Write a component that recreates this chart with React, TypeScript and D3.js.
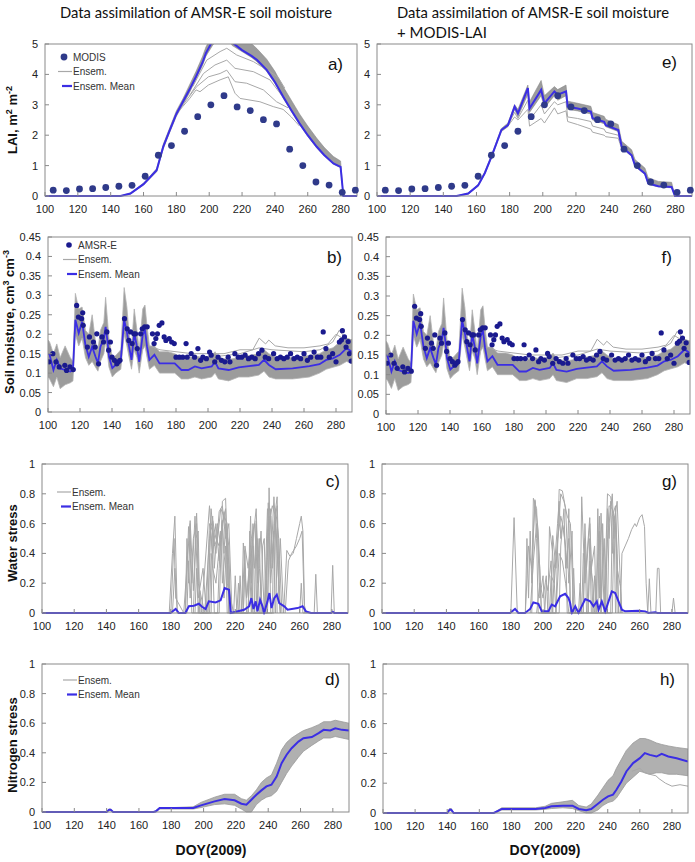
import React from 'react';
import * as d3 from 'd3';

// ---------- data ----------
const doyTicks = [100, 120, 140, 160, 180, 200, 220, 240, 260, 280];
const laiTicks = [0, 1, 2, 3, 4, 5];
const smTicks = [0, 0.05, 0.1, 0.15, 0.2, 0.25, 0.3, 0.35, 0.4, 0.45];
const stressTicks = [0, 0.2, 0.4, 0.6, 0.8, 1];

// MODIS LAI observations (8-day)
const modisDoy = [105, 113, 121, 129, 137, 145, 153, 161, 169, 177, 185, 193, 201, 209, 217, 225, 233, 241, 249, 257, 265, 273, 281, 289];
const modisLai = [0.19, 0.18, 0.23, 0.24, 0.28, 0.32, 0.35, 0.65, 1.34, 1.66, 2.13, 2.61, 3.0, 3.3, 2.93, 2.81, 2.51, 2.37, 1.54, 1.0, 0.46, 0.36, 0.12, 0.19];

// LAI, soil moisture assimilation only
const laiOpenDoy = [100, 146, 152, 160, 168, 172, 176, 180, 184, 188, 192, 196, 198, 202, 206, 210, 214, 220, 226, 229, 235, 240, 245, 250, 255, 260, 265.5, 270, 275.6, 280, 281.7, 290];
const laiOpenMean = [0, 0, 0.08, 0.39, 0.85, 1.62, 2.17, 2.7, 3.1, 3.5, 3.93, 4.4, 4.7, 5.1, 5.4, 5.5, 5.05, 4.8, 4.6, 4.48, 4.15, 3.75, 3.27, 2.82, 2.39, 2.0, 1.62, 1.35, 1.07, 0.96, 0, 0];
const laiOpenLo = [0, 0, 0.06, 0.36, 0.8, 1.55, 2.1, 2.62, 3.0, 3.4, 3.85, 4.3, 4.6, 4.95, 5.2, 5.3, 4.95, 4.75, 4.55, 4.42, 4.1, 3.7, 3.22, 2.78, 2.35, 1.96, 1.58, 1.32, 1.05, 0.93, 0, 0];
const laiOpenHi = [0, 0, 0.1, 0.42, 0.9, 1.7, 2.25, 2.8, 3.2, 3.65, 4.1, 4.6, 4.9, 5.3, 5.6, 5.7, 5.5, 5.25, 5.0, 4.85, 4.5, 4.1, 3.6, 3.15, 2.7, 2.3, 1.9, 1.6, 1.3, 1.15, 0, 0];
const laiOpenMembers: [number, number][][] = [
  [[180, 2.7], [184, 2.95], [188, 3.2], [192, 3.49], [194.4, 3.43], [199.5, 3.65], [206.6, 3.82], [211.6, 3.92], [215.7, 3.38], [218.8, 3.21], [230.9, 3.1], [239, 2.94], [245, 2.85], [250, 2.6], [255, 2.3]],
  [[184, 3.0], [192.4, 3.6], [199.5, 3.92], [206.6, 4.03], [210.7, 4.14], [215.7, 3.76], [222.8, 3.71], [233, 3.49], [241, 3.1], [248, 2.9]],
  [[188, 3.3], [196.5, 4.03], [203.5, 4.31], [210.7, 4.47], [215.7, 4.2], [226.9, 4.09], [237, 3.82], [243.1, 3.38], [248, 3.05]],
  [[190, 3.6], [198.5, 4.47], [206.6, 4.75], [210.7, 4.86], [216.7, 4.64], [226.9, 4.42], [237, 4.09], [242, 3.9], [246, 3.55]],
];

// LAI, soil moisture + MODIS-LAI assimilation
const laiDaDoy = [100, 148, 155, 161, 165, 169, 175, 179, 183, 185, 191, 192, 199, 201, 207, 209, 214, 215, 221, 229, 230, 237, 238, 245.5, 247.6, 253.6, 255.6, 261.6, 263.6, 269.7, 277.7, 279.7, 290];
const laiDaMean = [0, 0, 0.08, 0.35, 0.75, 1.29, 2.17, 2.33, 2.94, 2.72, 3.55, 2.88, 3.49, 3.05, 3.44, 3.33, 3.44, 2.94, 2.88, 2.78, 2.56, 2.44, 2.33, 2.17, 1.62, 1.34, 1.01, 0.74, 0.41, 0.32, 0.3, 0, 0];
const laiDaLo = [0, 0, 0.06, 0.32, 0.72, 1.25, 2.12, 2.28, 2.85, 2.6, 3.35, 2.75, 3.3, 2.9, 3.3, 3.15, 3.3, 2.85, 2.8, 2.7, 2.5, 2.38, 2.28, 2.12, 1.58, 1.3, 0.98, 0.7, 0.38, 0.3, 0.27, 0, 0];
const laiDaHi = [0, 0, 0.1, 0.38, 0.8, 1.33, 2.22, 2.4, 3.0, 2.85, 3.65, 3.1, 3.8, 3.3, 3.6, 3.5, 3.65, 3.12, 3.05, 2.95, 2.75, 2.62, 2.52, 2.35, 1.8, 1.52, 1.2, 0.92, 0.6, 0.48, 0.45, 0, 0];
const laiDaMembers: [number, number][][] = [
  [[179, 2.3], [183, 2.6], [185, 2.5], [191, 2.85], [192, 2.3], [199, 2.55], [201, 2.4], [207, 2.9], [209, 2.7], [214, 2.8], [215, 2.45], [221, 2.35], [229, 2.2], [230, 2.1], [237, 2.0], [238, 1.95], [245.5, 1.9], [247.6, 1.55]],
  [[179, 2.32], [183, 2.75], [185, 2.55], [191, 3.15], [192, 2.5], [199, 3.0], [201, 2.7], [207, 3.1], [209, 3.0], [214, 3.1], [215, 2.6], [221, 2.55], [229, 2.45], [230, 2.3], [237, 2.2], [238, 2.1], [245.5, 2.0], [247.6, 1.6]],
];

// AMSR-E soil moisture retrievals
const amsrDoy = [100.6, 103, 105, 107, 110.5, 111.6, 113.7, 115.8, 117.9, 119, 121, 121.7, 122, 124.6, 125.9, 128.4, 129.5, 130.5, 131.6, 133.7, 134.7, 136.8, 137.9, 139, 140, 141.5, 143, 144, 145, 147.8, 149.5, 150.5, 151.6, 152.6, 153.7, 154.7, 155.8, 157.9, 158.9, 160.4, 162, 165.3, 166.3, 167.4, 168.4, 169.5, 171.2, 172.6, 173.7, 175.8, 177.3, 178.9, 180, 182.1, 184.2, 186.3, 187, 189.5, 191.6, 193.7, 195.4, 196.8, 199, 201, 202, 204.2, 206.3, 208.4, 210.5, 212.6, 213.7, 216.8, 218.9, 221, 223.2, 225.3, 227.4, 229.5, 231.6, 233.7, 235.8, 237.9, 241, 243.2, 245.3, 247.4, 249.5, 251.6, 253.7, 255.8, 257.9, 260, 262.1, 264.2, 266.3, 268.4, 270.5, 272, 273.7, 275.8, 277.9, 280, 282.1, 283.4, 284, 285.3, 286.3, 287.6, 288.4, 289.5];
const amsrSm = [0.129, 0.15, 0.129, 0.116, 0.12, 0.107, 0.116, 0.109, 0.274, 0.244, 0.24, 0.255, 0.223, 0.167, 0.193, 0.18, 0.167, 0.201, 0.124, 0.193, 0.18, 0.206, 0.159, 0.18, 0.141, 0.133, 0.124, 0.129, 0.133, 0.24, 0.214, 0.184, 0.206, 0.176, 0.201, 0.201, 0.163, 0.201, 0.214, 0.219, 0.219, 0.201, 0.176, 0.189, 0.201, 0.223, 0.229, 0.193, 0.184, 0.189, 0.18, 0.176, 0.141, 0.141, 0.141, 0.176, 0.141, 0.15, 0.141, 0.163, 0.133, 0.141, 0.137, 0.154, 0.146, 0.129, 0.141, 0.133, 0.129, 0.141, 0.129, 0.15, 0.141, 0.141, 0.146, 0.137, 0.141, 0.137, 0.15, 0.159, 0.141, 0.137, 0.15, 0.137, 0.141, 0.137, 0.141, 0.15, 0.137, 0.141, 0.137, 0.15, 0.133, 0.141, 0.154, 0.141, 0.141, 0.206, 0.163, 0.141, 0.15, 0.129, 0.18, 0.185, 0.209, 0.193, 0.167, 0.181, 0.15, 0.131];

// simulated soil moisture ensemble (same in both experiments)
const smDoy = [100, 101, 103.4, 105.5, 107.6, 110.7, 113.9, 115.6, 117.1, 119.2, 121.3, 123.4, 125.5, 127.6, 129.7, 131.2, 132.8, 134.9, 136, 137.1, 138.1, 140.2, 142.3, 145.5, 147.6, 149.3, 150.7, 152.2, 153.9, 155.6, 157, 159.2, 160.6, 161.9, 163.4, 166.5, 169.7, 175, 179.2, 183.4, 187.6, 191.8, 196, 202.3, 204.4, 206.5, 212.9, 219.2, 225.5, 231.8, 235, 238.1, 242.3, 252.9, 263.4, 269.7, 273.9, 278.1, 282.4, 286.6, 290];
const smMean = [0.15, 0.147, 0.108, 0.134, 0.112, 0.108, 0.104, 0.108, 0.237, 0.203, 0.232, 0.172, 0.142, 0.168, 0.142, 0.126, 0.168, 0.189, 0.219, 0.185, 0.142, 0.113, 0.121, 0.134, 0.237, 0.206, 0.168, 0.134, 0.202, 0.168, 0.129, 0.198, 0.211, 0.168, 0.134, 0.147, 0.125, 0.125, 0.125, 0.108, 0.108, 0.117, 0.112, 0.117, 0.129, 0.112, 0.108, 0.115, 0.118, 0.121, 0.134, 0.121, 0.11, 0.112, 0.118, 0.123, 0.134, 0.138, 0.147, 0.164, 0.155];
const smLo = [0.09, 0.085, 0.065, 0.09, 0.06, 0.07, 0.075, 0.08, 0.2, 0.17, 0.19, 0.14, 0.12, 0.13, 0.115, 0.105, 0.13, 0.15, 0.18, 0.15, 0.115, 0.09, 0.1, 0.11, 0.2, 0.17, 0.14, 0.11, 0.16, 0.14, 0.1, 0.16, 0.17, 0.14, 0.11, 0.12, 0.1, 0.1, 0.1, 0.085, 0.085, 0.09, 0.085, 0.09, 0.1, 0.085, 0.08, 0.09, 0.09, 0.095, 0.105, 0.09, 0.085, 0.085, 0.09, 0.1, 0.11, 0.115, 0.12, 0.13, 0.125];
const smHi = [0.185, 0.18, 0.15, 0.175, 0.14, 0.17, 0.14, 0.13, 0.305, 0.265, 0.27, 0.21, 0.2, 0.25, 0.18, 0.16, 0.21, 0.23, 0.295, 0.24, 0.19, 0.14, 0.145, 0.16, 0.32, 0.27, 0.2, 0.17, 0.265, 0.21, 0.16, 0.265, 0.275, 0.22, 0.17, 0.17, 0.155, 0.155, 0.15, 0.14, 0.135, 0.145, 0.14, 0.145, 0.155, 0.14, 0.135, 0.14, 0.145, 0.15, 0.16, 0.15, 0.14, 0.14, 0.145, 0.15, 0.16, 0.165, 0.18, 0.19, 0.185];
const smMembers: [number, number][][] = [
  [[163, 0.17], [170, 0.16], [180, 0.155], [190, 0.15], [200, 0.15], [210, 0.15], [220, 0.16], [228, 0.16], [232, 0.19], [236, 0.175], [238, 0.185], [242, 0.17], [250, 0.165], [260, 0.165], [270, 0.17], [275, 0.175], [280, 0.2], [284, 0.19], [290, 0.18]],
  [[180, 0.14], [200, 0.14], [220, 0.15], [232, 0.165], [240, 0.16], [260, 0.155], [270, 0.16], [278, 0.18], [282, 0.21], [286, 0.19], [290, 0.185]],
];

// water stress, soil moisture assimilation only
const wsOpenDoy = [100, 179.8, 183, 185, 189, 191.2, 194.3, 197.4, 199.5, 201.6, 203.6, 207.8, 210.9, 213.4, 216.1, 217.2, 225.5, 228.6, 230, 231.3, 232.7, 233.8, 235.4, 236.9, 237.9, 240, 241.2, 242.5, 244.2, 245.8, 247.3, 250.4, 252.5, 258.7, 261.8, 263.9, 267, 279.5, 280.5, 281.5, 290];
const wsOpenMean = [0, 0, 0.027, 0, 0, 0.045, 0.049, 0.062, 0.04, 0.027, 0.078, 0.071, 0.085, 0.167, 0.156, 0, 0.022, 0.045, 0.1, 0.027, 0.078, 0.011, 0.089, 0.045, 0, 0.078, 0.134, 0.033, 0.1, 0.123, 0.067, 0.045, 0.022, 0.033, 0.045, 0.011, 0, 0, 0.008, 0, 0];
const wsOpenMembers: [number, number][][] = [
  [[179, 0], [181, 0.4], [182.5, 0.65], [184, 0], [189, 0], [190, 0.5], [191, 0.2], [192, 0.6], [193, 0], [199, 0], [204, 0.72], [206, 0.35], [207, 0], [210, 0], [212, 0.75], [214, 0.77], [216, 0.1], [217, 0], [228, 0], [229.5, 0.65], [231, 0], [240, 0], [241, 0.84], [242, 0.3], [244, 0.78], [246, 0.4], [248, 0]],
  [[180, 0], [182, 0.5], [183, 0.1], [188, 0], [192, 0.62], [194, 0.15], [196, 0.67], [198, 0], [203, 0], [205, 0.7], [207, 0.45], [209, 0.5], [211, 0.7], [213, 0.65], [215, 0.6], [217, 0], [224, 0], [225, 0.47], [227, 0.1], [233, 0.7], [235, 0], [239, 0], [240.5, 0.74], [242, 0.2], [245, 0.7], [247, 0.5], [249, 0]],
  [[189, 0], [191, 0.58], [193, 0.2], [195, 0.65], [197, 0.1], [200, 0.3], [202, 0], [204, 0.6], [206, 0.55], [208, 0.4], [210, 0.68], [212, 0.72], [214, 0.5], [216, 0.6], [218, 0], [222, 0], [223, 0.25], [224, 0], [226, 0.45], [228, 0.3], [230, 0.5], [232, 0.6], [234, 0.2], [236, 0.55], [238, 0], [241, 0.6], [243, 0.72], [245, 0.65], [247, 0.2], [248, 0.5], [250, 0]],
  [[250, 0], [252, 0.42], [254, 0.38], [256, 0.4], [258, 0.5], [260, 0.6], [261, 0.65], [262, 0.55], [263, 0.05], [264, 0]],
  [[251, 0], [253, 0.35], [255, 0.4], [258, 0.45], [260, 0.5], [261.5, 0.55], [263, 0]],
  [[194, 0], [195.5, 0.5], [197, 0.55], [198, 0], [205, 0], [206, 0.62], [208, 0.5], [210, 0.45], [212, 0.6], [214, 0.7], [215, 0.2], [219, 0], [220, 0.25], [221, 0], [228, 0], [229, 0.55], [230, 0.2], [231, 0.6], [232, 0], [236, 0], [237, 0.45], [238, 0.5], [239, 0], [243, 0], [244, 0.6], [246, 0.78], [247, 0.3], [248, 0]],
  [[195, 0], [196, 0.3], [197, 0], [204, 0], [205, 0.4], [206, 0.3], [208, 0.2], [211, 0.55], [212, 0.2], [214, 0.45], [215, 0], [225, 0], [226, 0.3], [227, 0.1], [229, 0.35], [231, 0], [233, 0], [234, 0.5], [235, 0.3], [237, 0], [240, 0], [241, 0.45], [242, 0.7], [243, 0.3], [244, 0.55], [245, 0]],
  [[260, 0], [261, 0.2], [262, 0], [269, 0], [270, 0.26], [271, 0], [279.5, 0], [280.5, 0.32], [281.5, 0]],
  [[181, 0], [182.5, 0.3], [184, 0], [190, 0], [191, 0.35], [192, 0.1], [194, 0.5], [196, 0.6], [197, 0.2], [201, 0], [204, 0.5], [206, 0.65], [207, 0.3], [209, 0.6], [211, 0.45], [213, 0.68], [215, 0.4], [216, 0], [221, 0], [222, 0.2], [223, 0], [230, 0], [231, 0.45], [232, 0.3], [233, 0.6], [234, 0], [238, 0], [240, 0.7], [241, 0.5], [242, 0.65], [243, 0.4], [245, 0.62], [246, 0]],
  [[203, 0], [204.5, 0.55], [206, 0.4], [208, 0.6], [210, 0.35], [212, 0.62], [213, 0.1], [215, 0.55], [216, 0], [225, 0], [226, 0.42], [227, 0], [232, 0], [233, 0.62], [234, 0.3], [235, 0.5], [236, 0], [244, 0], [245, 0.65], [246, 0.72], [247, 0.1], [248, 0]],
  [[197, 0], [198, 0.15], [199, 0], [209, 0], [210, 0.3], [211, 0.5], [212, 0.62], [213, 0.4], [214, 0.6], [216, 0.45], [217, 0], [228, 0], [229, 0.3], [230, 0], [239, 0], [240, 0.55], [241, 0.65], [242, 0]],
];

// water stress, soil moisture + MODIS-LAI assimilation
const wsDaDoy = [100, 179.5, 182.6, 184.7, 188.8, 192, 194, 197.1, 199.2, 203.3, 205.4, 207.5, 210.6, 213.7, 215.8, 216.8, 217.9, 220, 222, 226.2, 229.3, 231.3, 233.4, 234.5, 236.5, 238.6, 241.7, 242.7, 244.8, 248.9, 251, 259.3, 263.4, 265.4, 269.6, 271, 290];
const wsDaMean = [0, 0, 0.027, 0, 0, 0.027, 0.071, 0.062, 0.011, 0.011, 0.056, 0.045, 0.112, 0.129, 0.1, 0.067, 0, 0.045, 0, 0.094, 0.078, 0.045, 0.078, 0.022, 0.078, 0.011, 0.112, 0.145, 0.134, 0.022, 0.011, 0.015, 0.011, 0, 0.005, 0, 0];
const wsDaMembers: [number, number][][] = [
  [[180, 0], [182, 0.64], [184, 0], [189, 0], [190, 0.5], [191, 0.1], [192, 0.55], [193, 0.2], [194, 0.77], [196, 0.7], [198, 0.1], [200, 0.25], [201, 0], [203, 0], [204, 0.58], [206, 0.4], [208, 0], [210, 0.83], [212, 0.82], [214, 0.7], [216, 0.2], [218, 0.55], [219, 0], [223, 0], [224, 0.78], [226, 0.2], [229, 0.64], [231, 0], [233, 0], [234, 0.7], [235, 0.1], [236, 0.67], [238, 0], [240, 0.8], [242, 0.78], [244, 0.6], [246, 0.75], [248, 0.2], [249, 0]],
  [[189, 0], [191, 0.45], [193, 0.3], [195, 0.75], [197, 0.55], [199, 0], [205, 0], [206, 0.52], [208, 0.3], [211, 0.8], [213, 0.75], [215, 0.65], [217, 0.6], [219, 0], [225, 0], [226, 0.6], [227, 0.3], [229, 0.6], [230, 0.3], [232, 0.45], [233, 0], [238, 0], [241, 0.72], [243, 0.7], [245, 0.6], [246, 0.3], [248, 0.18], [249, 0]],
  [[192, 0], [194, 0.35], [196, 0.6], [198, 0.3], [199, 0], [204, 0], [205, 0.25], [207, 0.2], [209, 0.5], [211, 0.65], [213, 0.55], [215, 0.3], [216, 0.7], [217, 0], [228, 0], [229, 0.5], [230, 0], [234, 0], [235, 0.55], [236, 0], [240, 0], [241, 0.6], [243, 0.8], [244, 0.5], [245, 0.7], [247, 0]],
  [[248, 0], [249, 0.4], [251, 0.45], [253, 0.5], [255, 0.56], [257, 0.6], [258, 0.58], [260, 0.64], [261.5, 0.66], [263, 0.58], [264, 0.2], [265, 0], [266, 0.23], [267, 0], [270, 0], [271, 0.3], [272, 0.3], [273, 0], [280, 0], [281, 0.1], [282, 0]],
  [[196, 0], [198, 0.2], [200, 0.1], [202, 0.25], [203, 0], [208, 0], [210, 0.4], [212, 0.35], [214, 0.2], [216, 0], [224, 0], [225, 0.4], [227, 0.3], [228, 0], [231, 0], [232, 0.25], [233, 0], [236, 0], [237, 0.6], [238, 0.2], [239, 0], [242, 0], [243, 0.65], [245, 0.72], [246, 0.4], [247, 0]],
  [[193, 0], [194, 0.55], [195, 0.76], [196, 0.5], [197, 0], [206, 0], [207, 0.3], [209, 0.6], [210, 0.75], [211, 0.5], [212, 0.6], [214, 0.45], [215, 0], [218, 0], [219, 0.3], [220, 0], [225, 0], [226, 0.5], [227, 0], [233, 0], [234, 0.4], [235, 0.65], [236, 0], [239, 0], [240, 0.7], [241, 0.5], [242, 0.75], [243, 0.4], [244, 0.65], [245, 0]],
  [[201, 0], [202, 0.2], [203, 0.15], [205, 0.35], [206, 0], [210, 0], [211, 0.45], [213, 0.7], [214, 0.3], [216, 0.5], [217, 0], [222, 0], [223, 0.2], [224, 0], [228, 0], [229, 0.35], [231, 0.2], [232, 0], [236, 0], [237, 0.3], [238, 0.5], [239, 0], [243, 0], [244, 0.55], [245, 0.6], [246, 0]],
];

// nitrogen stress, soil moisture assimilation only
const nOpenDoy = [100, 140, 141.5, 142.5, 144, 169, 170.5, 172.8, 181.1, 193.6, 198.4, 206.8, 213, 219.2, 223.4, 226.5, 229.6, 232.7, 235.8, 238.9, 242, 245.2, 248.3, 251.4, 254.5, 258.7, 261.8, 267, 271.2, 274.3, 278.4, 281.5, 285.7, 290];
const nOpenMean = [0, 0, 0.016, 0.016, 0, 0, 0.005, 0.027, 0.027, 0.027, 0.045, 0.072, 0.088, 0.079, 0.056, 0.049, 0.083, 0.117, 0.146, 0.173, 0.184, 0.24, 0.33, 0.387, 0.431, 0.476, 0.499, 0.506, 0.533, 0.555, 0.551, 0.566, 0.555, 0.551];
const nOpenLo = [0, 0, 0.01, 0.01, 0, 0, 0, 0.02, 0.02, 0.02, 0.03, 0.05, 0.055, 0.045, 0.02, 0, 0, 0.05, 0.08, 0.1, 0.11, 0.14, 0.2, 0.26, 0.31, 0.37, 0.41, 0.45, 0.48, 0.5, 0.5, 0.51, 0.5, 0.49];
const nOpenHi = [0, 0, 0.02, 0.02, 0, 0, 0.01, 0.03, 0.03, 0.035, 0.065, 0.1, 0.12, 0.12, 0.09, 0.08, 0.11, 0.15, 0.2, 0.23, 0.25, 0.33, 0.42, 0.47, 0.5, 0.53, 0.55, 0.57, 0.59, 0.61, 0.61, 0.62, 0.61, 0.6];

// nitrogen stress, soil moisture + MODIS-LAI assimilation
const nDaDoy = [100, 140, 141.5, 142.5, 144, 169, 171, 174, 195, 201, 205, 212, 218, 222, 226.6, 229.7, 233.9, 237, 240.2, 243.3, 245.4, 248.5, 251.6, 255.8, 260, 263.1, 266.2, 270.4, 273.6, 277.7, 282.9, 290];
const nDaMean = [0, 0, 0.022, 0.022, 0, 0, 0.011, 0.027, 0.027, 0.033, 0.045, 0.049, 0.049, 0.027, 0.018, 0.027, 0.062, 0.089, 0.112, 0.123, 0.156, 0.212, 0.279, 0.335, 0.368, 0.402, 0.39, 0.379, 0.397, 0.379, 0.368, 0.346];
const nDaLo = [0, 0, 0.015, 0.015, 0, 0, 0.005, 0.02, 0.02, 0.025, 0.03, 0.035, 0.03, 0.015, 0, 0, 0.02, 0.05, 0.07, 0.08, 0.1, 0.15, 0.2, 0.24, 0.28, 0.27, 0.26, 0.27, 0.27, 0.26, 0.26, 0.25];
const nDaHi = [0, 0, 0.03, 0.03, 0, 0, 0.015, 0.035, 0.035, 0.045, 0.065, 0.075, 0.085, 0.05, 0.04, 0.06, 0.12, 0.17, 0.22, 0.25, 0.3, 0.36, 0.42, 0.47, 0.5, 0.5, 0.49, 0.47, 0.46, 0.45, 0.44, 0.43];
const nDaMembers: [number, number][][] = [
  [[255, 0.28], [260, 0.3], [263, 0.27], [266, 0.26], [270, 0.25], [272, 0.23], [276, 0.2], [280, 0.18], [285, 0.19], [290, 0.18]],
];

// ---------- styling ----------
const BLUE = '#3b2ee4';
const ENS = '#a8a8a8';
const BAND = '#9c9c9c';
const FRAME = '#8a8a8a';
const MODIS_C = '#2f3a8a';
const AMSR_C = '#1a1a8e';
const FONT = "'Liberation Sans', Arial, sans-serif";

type Box = { x: number; y: number; w: number; h: number; tagDx: number; tagDy: number };
type Sc = d3.ScaleLinear<number, number>;

const zip = (xs: number[], ys: number[]) => xs.map((d, i) => [d, ys[i]] as [number, number]);

const lineFor = (x: Sc, y: Sc) =>
  d3.line<[number, number]>().x(d => x(d[0])).y(d => y(d[1]));

const bandFor = (x: Sc, y: Sc, doy: number[], lo: number[], hi: number[]) =>
  d3.area<number>().x(i => x(doy[i])).y0(i => y(lo[i])).y1(i => y(hi[i]))(d3.range(doy.length)) || '';

const Panel = ({ id, box, yMax, yTicks, yFmt, tag, plot, marks }: {
  id: string; box: Box; yMax: number; yTicks: number[]; yFmt: (v: number) => string; tag: string;
  plot: (x: Sc, y: Sc) => React.ReactNode; marks?: (x: Sc, y: Sc) => React.ReactNode;
}) => {
  const x = d3.scaleLinear().domain([100, 290]).range([box.x, box.x + box.w]);
  const y = d3.scaleLinear().domain([0, yMax]).range([box.y + box.h, box.y]);
  const bottom = box.y + box.h;
  return (
    <g>
      <defs>
        <clipPath id={id}>
          <rect x={box.x} y={box.y} width={box.w} height={box.h + 1.5} />
        </clipPath>
      </defs>
      <rect x={box.x} y={box.y} width={box.w} height={box.h} fill="#fff" />
      <g clipPath={`url(#${id})`}>{plot(x, y)}</g>
      <rect x={box.x} y={box.y} width={box.w} height={box.h} fill="none" stroke={FRAME} strokeWidth={1} />
      {doyTicks.map(t => (
        <g key={t}>
          <line x1={x(t)} x2={x(t)} y1={bottom} y2={bottom - 4} stroke={FRAME} />
          <text x={x(t)} y={bottom + 17} textAnchor="middle" fontSize={11} fill="#222">{t}</text>
        </g>
      ))}
      {yTicks.map(t => (
        <g key={t}>
          <line x1={box.x} x2={box.x + 4} y1={y(t)} y2={y(t)} stroke={FRAME} />
          <text x={box.x - 7} y={y(t) + 4} textAnchor="end" fontSize={11} fill="#222">{yFmt(t)}</text>
        </g>
      ))}
      {marks && marks(x, y)}
      <text x={box.x + box.w - box.tagDx} y={box.y + box.tagDy} textAnchor="end" fontSize={17} fill="#111">{tag}</text>
    </g>
  );
};

const Legend = ({ x, y, dot, dotR, dotColor }: { x: number; y: number; dot?: string; dotR?: number; dotColor?: string }) => {
  let row = y;
  const rows: React.ReactNode[] = [];
  if (dot) {
    rows.push(
      <g key="dot">
        <circle cx={x + 6} cy={row} r={dotR} fill={dotColor} />
        <text x={x + 15} y={row + 3.5} fontSize={10} fill="#333">{dot}</text>
      </g>
    );
    row += 14.5;
  }
  rows.push(
    <g key="ens">
      <line x1={x} x2={x + 14} y1={row} y2={row} stroke={ENS} strokeWidth={1.2} />
      <text x={x + 15} y={row + 3.5} fontSize={10} fill="#333">Ensem.</text>
    </g>
  );
  row += 14.5;
  rows.push(
    <g key="mean">
      <line x1={x + 4} x2={x + 14} y1={row} y2={row} stroke={BLUE} strokeWidth={2.2} />
      <text x={x + 15} y={row + 3.5} fontSize={10} fill="#333">Ensem. Mean</text>
    </g>
  );
  return <g>{rows}</g>;
};

const boxA: Box = { x: 45, y: 44, w: 312, h: 152, tagDx: 14, tagDy: 26 };
const boxE: Box = { x: 377, y: 44, w: 315, h: 152, tagDx: 15, tagDy: 24 };
const boxB: Box = { x: 48, y: 237, w: 304, h: 175, tagDx: 10, tagDy: 26 };
const boxF: Box = { x: 386, y: 237, w: 304, h: 177, tagDx: 18, tagDy: 26 };
const boxC: Box = { x: 42, y: 464, w: 306, h: 149, tagDx: 8, tagDy: 23 };
const boxG: Box = { x: 382, y: 464, w: 306, h: 149, tagDx: 11, tagDy: 23 };
const boxD: Box = { x: 42, y: 664, w: 307, h: 148, tagDx: 9, tagDy: 21 };
const boxH: Box = { x: 383, y: 664, w: 305, h: 149, tagDx: 13, tagDy: 21 };

const intFmt = (v: number) => String(v);
const decFmt = (v: number) => String(+v.toFixed(2));

const LaiPlot = (doy: number[], mean: number[], lo: number[], hi: number[], members: [number, number][][]) =>
  (x: Sc, y: Sc) => {
    const line = lineFor(x, y);
    return (
      <>
        <path d={bandFor(x, y, doy, lo, hi)} fill={BAND} stroke="#8a8a8a" strokeWidth={0.6} />
        {members.map((m, i) => <path key={i} d={line(m) || ''} fill="none" stroke={ENS} strokeWidth={1} />)}
        <path d={line(zip(doy, mean)) || ''} fill="none" stroke={BLUE} strokeWidth={2} />
      </>
    );
  };

const modisMarks = (x: Sc, y: Sc) =>
  zip(modisDoy, modisLai).map((d, i) => <circle key={i} cx={x(d[0])} cy={y(d[1])} r={3.4} fill={MODIS_C} />);

const smPlot = (x: Sc, y: Sc) => {
  const line = lineFor(x, y);
  return (
    <>
      <path d={bandFor(x, y, smDoy, smLo, smHi)} fill={BAND} stroke="#b4b4b4" strokeWidth={0.8} />
      {smMembers.map((m, i) => <path key={i} d={line(m) || ''} fill="none" stroke={ENS} strokeWidth={1} />)}
      <path d={line(zip(smDoy, smMean)) || ''} fill="none" stroke={BLUE} strokeWidth={1.8} />
      {zip(amsrDoy, amsrSm).map((d, i) => <circle key={i} cx={x(d[0])} cy={y(d[1])} r={2.6} fill={AMSR_C} />)}
    </>
  );
};

const wsPlot = (doy: number[], mean: number[], members: [number, number][][]) => (x: Sc, y: Sc) => {
  const line = lineFor(x, y);
  return (
    <>
      {members.map((m, i) => <path key={i} d={line(m) || ''} fill="none" stroke={ENS} strokeWidth={1} />)}
      <path d={line(zip(doy, mean)) || ''} fill="none" stroke={BLUE} strokeWidth={2} />
    </>
  );
};

const nPlot = (doy: number[], mean: number[], lo: number[], hi: number[], members: [number, number][][]) =>
  (x: Sc, y: Sc) => {
    const line = lineFor(x, y);
    return (
      <>
        <path d={bandFor(x, y, doy, lo, hi)} fill="#b0b0b0" stroke="#999" strokeWidth={0.8} />
        {members.map((m, i) => <path key={i} d={line(m) || ''} fill="none" stroke={ENS} strokeWidth={1} />)}
        <path d={line(zip(doy, mean)) || ''} fill="none" stroke={BLUE} strokeWidth={2} />
      </>
    );
  };

const YTitle = ({ x, y, children }: { x: number; y: number; children: React.ReactNode }) => (
  <text transform={`translate(${x},${y}) rotate(-90)`} textAnchor="middle" fontSize={13} fontWeight="bold" fill="#111">
    {children}
  </text>
);

export default function App() {
  return (
    <div style={{ position: 'absolute', left: 0, top: 0 }}>
      <svg width={695} height={862} style={{ display: 'block', background: '#fff' }} fontFamily={FONT}>
        <g fontFamily="Lato, 'Open Sans', sans-serif" fontSize={15} fill="#111">
          <text x={60} y={18} textLength={272} lengthAdjust="spacingAndGlyphs">Data assimilation of AMSR-E soil moisture</text>
          <text x={397} y={18} textLength={272} lengthAdjust="spacingAndGlyphs">Data assimilation of AMSR-E soil moisture</text>
          <text x={397} y={38}>+ MODIS-LAI</text>
        </g>

        <Panel id="pa" box={boxA} yMax={5} yTicks={laiTicks} yFmt={intFmt} tag="a)"
          plot={LaiPlot(laiOpenDoy, laiOpenMean, laiOpenLo, laiOpenHi, laiOpenMembers)} marks={modisMarks} />
        <Legend x={58} y={57} dot="MODIS" dotR={3.4} dotColor={MODIS_C} />
        <Panel id="pe" box={boxE} yMax={5} yTicks={laiTicks} yFmt={intFmt} tag="e)"
          plot={LaiPlot(laiDaDoy, laiDaMean, laiDaLo, laiDaHi, laiDaMembers)} marks={modisMarks} />

        <Panel id="pb" box={boxB} yMax={0.45} yTicks={smTicks} yFmt={decFmt} tag="b)" plot={smPlot} />
        <Legend x={63} y={245} dot="AMSR-E" dotR={2.8} dotColor={AMSR_C} />
        <Panel id="pf" box={boxF} yMax={0.45} yTicks={smTicks} yFmt={decFmt} tag="f)" plot={smPlot} />

        <Panel id="pc" box={boxC} yMax={1} yTicks={stressTicks} yFmt={decFmt} tag="c)"
          plot={wsPlot(wsOpenDoy, wsOpenMean, wsOpenMembers)} />
        <Legend x={57} y={492} />
        <Panel id="pg" box={boxG} yMax={1} yTicks={stressTicks} yFmt={decFmt} tag="g)"
          plot={wsPlot(wsDaDoy, wsDaMean, wsDaMembers)} />

        <Panel id="pd" box={boxD} yMax={1} yTicks={stressTicks} yFmt={decFmt} tag="d)"
          plot={nPlot(nOpenDoy, nOpenMean, nOpenLo, nOpenHi, [])} />
        <Legend x={63} y={680} />
        <Panel id="ph" box={boxH} yMax={1} yTicks={stressTicks} yFmt={decFmt} tag="h)"
          plot={nPlot(nDaDoy, nDaMean, nDaLo, nDaHi, nDaMembers)} />

        <YTitle x={17} y={120}>LAI, m<tspan dy={-5} fontSize={9}>2</tspan><tspan dy={5}> m</tspan><tspan dy={-5} fontSize={9}>-2</tspan></YTitle>
        <YTitle x={14} y={322}>Soil moisture, cm<tspan dy={-5} fontSize={9}>3</tspan><tspan dy={5}> cm</tspan><tspan dy={-5} fontSize={9}>-3</tspan></YTitle>
        <YTitle x={17} y={543}>Water stress</YTitle>
        <YTitle x={17} y={745}>Nitrogen stress</YTitle>

        <text x={211} y={855} textAnchor="middle" fontSize={14} fontWeight="bold" fill="#111">DOY(2009)</text>
        <text x={545} y={855} textAnchor="middle" fontSize={14} fontWeight="bold" fill="#111">DOY(2009)</text>
      </svg>
    </div>
  );
}
